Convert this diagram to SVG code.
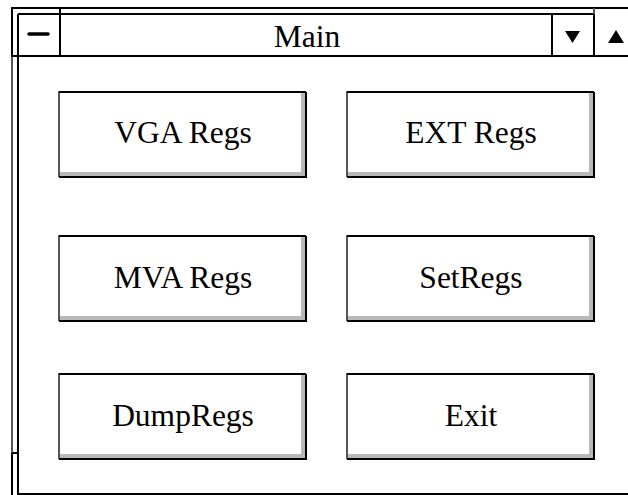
<svg xmlns="http://www.w3.org/2000/svg" width="628" height="495" viewBox="0 0 628 495">
<style>
.k{stroke:#000;stroke-width:2;fill:none}
.g{stroke:#555;stroke-width:2;fill:none}
.lbl{font-family:"Liberation Serif","Times New Roman",serif;font-size:31.5px;fill:#000;text-anchor:middle}
.face{fill:#fff;stroke:none}
.shade{fill:#b8b8b8}
</style>
<defs>
<g id="btn">
<rect class="face" x="0" y="0" width="248" height="85"/>
<rect class="shade" x="242" y="0" width="5" height="85"/>
<rect class="shade" x="0" y="80" width="247" height="5"/>
<path d="M0,85 V0 H247" class="g"/>
<path d="M0,0 H247" class="k"/>
<path d="M247,0 V85 H0" class="k"/>
</g>
</defs>
<rect width="628" height="495" fill="#fff"/>
<g id="frame">
<path d="M12,57 V8 H628" class="k"/>
<path d="M12,57 V453" class="g"/>
<path d="M12,453 V495 M12,453 H18" class="k"/>
<path d="M18,14 V494 H628" class="k"/>
<path d="M18,14 H594" class="k"/>
<path d="M594,8 V14" class="g"/>
<path d="M594,14 V57" class="k"/>
<path d="M12,56 H628" class="k"/>
</g>
<g id="titlebar">
<path d="M60,8 V56 M552,14 V56" class="k"/>
<path d="M29,34 H48" stroke="#000" stroke-width="3.5" stroke-linecap="round"/>
<polygon points="565,31 580,31 572.5,43" fill="#000"/>
<polygon points="608,43 624,43 616,30" fill="#000"/>
<text x="307" y="47" class="lbl">Main</text>
</g>
<g id="vga"><use href="#btn" x="59" y="92"/><text x="183" y="143" class="lbl">VGA Regs</text></g>
<g id="ext"><use href="#btn" x="347" y="92"/><text x="471" y="143" class="lbl">EXT Regs</text></g>
<g id="mva"><use href="#btn" x="59" y="236"/><text x="183" y="288" class="lbl">MVA Regs</text></g>
<g id="setregs"><use href="#btn" x="347" y="236"/><text x="471" y="288" class="lbl">SetRegs</text></g>
<g id="dumpregs"><use href="#btn" x="59" y="374"/><text x="183" y="426" class="lbl">DumpRegs</text></g>
<g id="exit"><use href="#btn" x="347" y="374"/><text x="471" y="426" class="lbl">Exit</text></g>
<g id="connectors"/>
</svg>
